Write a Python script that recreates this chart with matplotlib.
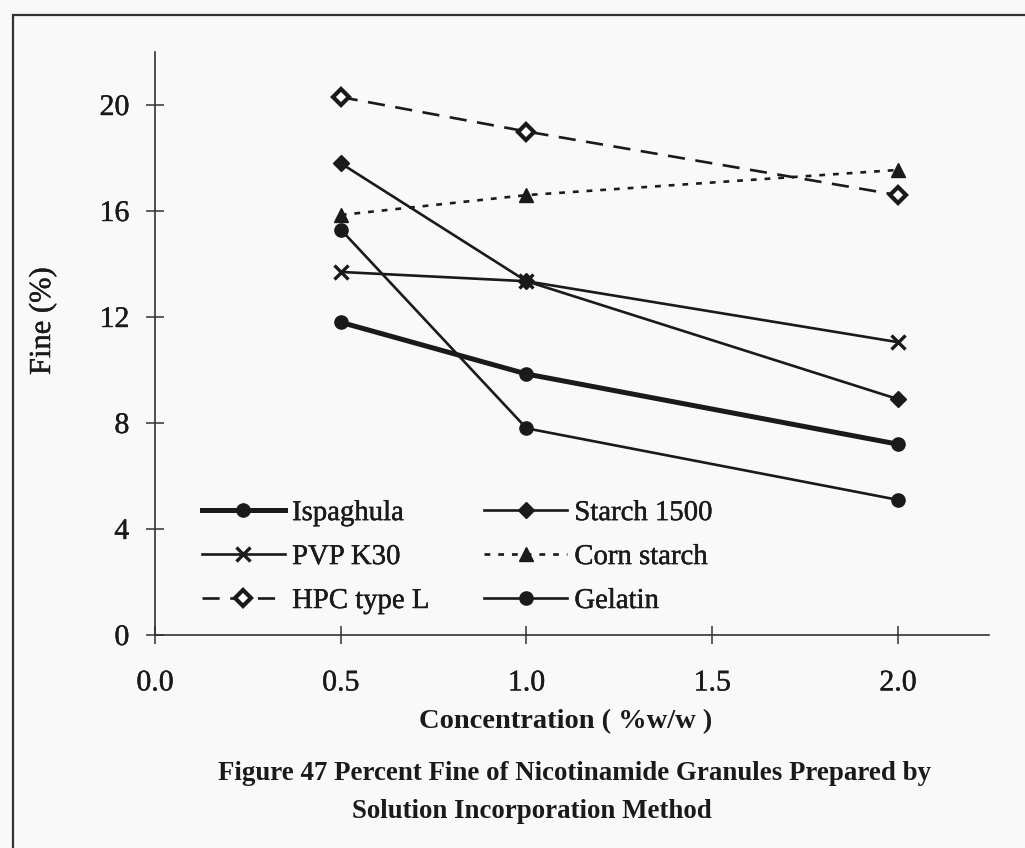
import matplotlib
matplotlib.use("Agg")
import matplotlib.pyplot as plt
import matplotlib.patheffects as pe
from matplotlib.patches import Rectangle

# Binder concentration (%w/w)
concentration = [0.5, 1.0, 2.0]

# Percent fine for each binder
ispaghula = [11.8, 9.85, 7.2]
starch_1500 = [17.8, 13.35, 8.9]
pvp_k30 = [13.7, 13.35, 11.05]
corn_starch = [15.85, 16.6, 17.55]
hpc_type_l = [20.3, 19.0, 16.6]
gelatin = [15.3, 7.8, 5.1]

x_ticks = [0.0, 0.5, 1.0, 1.5, 2.0]
y_ticks = [0, 4, 8, 12, 16, 20]

caption_1 = "Figure 47 Percent Fine of Nicotinamide Granules Prepared by"
caption_2 = "Solution Incorporation Method"

plt.rcParams["font.family"] = ["Liberation Serif", "DejaVu Serif"]
ink = "#1a1a1a"
bg = "#f9f9f9"
heavy = [pe.withStroke(linewidth=0.3, foreground=ink)]

W, H = 1025, 848
fig = plt.figure(figsize=(W / 100, H / 100), dpi=100, facecolor=bg)

# outer frame of the figure page
fig.patches.append(Rectangle((13 / W, -0.1), 1.2, 1 - 15 / H + 0.1,
                             transform=fig.transFigure, fill=False,
                             edgecolor="#333333", linewidth=1.6))

ax_l, ax_r, ax_t, ax_b = 155, 989, 52, 635
ax = fig.add_axes([ax_l / W, 1 - ax_b / H, (ax_r - ax_l) / W, (ax_b - ax_t) / H])
ax.set_facecolor(bg)

thin = 1.9
series = [
    ("Ispaghula", ispaghula, dict(color=ink, lw=3.6, ls="-", marker="o", ms=9.5, mfc=ink, mec=ink)),
    ("Starch 1500", starch_1500, dict(color=ink, lw=thin, ls="-", marker="D", ms=8, mfc=ink, mec=ink)),
    ("PVP K30", pvp_k30, dict(color=ink, lw=thin, ls="-", marker="x", ms=10, mew=2.4, mec=ink)),
    ("Corn starch", corn_starch, dict(color=ink, lw=thin, ls=(0, (2.2, 3.0)), marker="^", ms=10, mfc=ink, mec=ink)),
    ("HPC type L", hpc_type_l, dict(color=ink, lw=thin, ls=(0, (6.5, 4)), marker="D", ms=8.5, mfc="white", mec=ink, mew=3.0)),
    ("Gelatin", gelatin, dict(color=ink, lw=thin, ls="-", marker="o", ms=9.5, mfc=ink, mec=ink)),
]

handles = {}
for name, values, style in series:
    (ln,) = ax.plot(concentration, values, label=name, zorder=3, **style)
    handles[name] = ln

ax.set_xlim(0, 2.245)
ax.set_ylim(0, 22)
ax.set_xticks(x_ticks)
ax.set_xticklabels([f"{v:.1f}" for v in x_ticks])
ax.set_yticks(y_ticks)
ax.set_yticklabels([str(v) for v in y_ticks])

for side in ("top", "right"):
    ax.spines[side].set_visible(False)
for side in ("left", "bottom"):
    ax.spines[side].set_color("#333333")
    ax.spines[side].set_linewidth(1.2)

ax.tick_params(axis="both", direction="inout", length=13, width=1.1, color="#333333",
               labelsize=21.5, labelcolor=ink)
ax.tick_params(axis="x", pad=19)
ax.tick_params(axis="y", pad=12)
for lab in ax.get_xticklabels() + ax.get_yticklabels():
    lab.set_path_effects(heavy)

ax.set_xlabel("Concentration ( %w/w )", fontsize=20.5, fontweight="bold",
              color=ink, va="center")
ax.xaxis.set_label_coords((566 - ax_l) / (ax_r - ax_l), -(722 - ax_b) / (ax_b - ax_t))
ax.set_ylabel("Fine (%)", fontsize=22, color=ink, path_effects=heavy)
ax.yaxis.set_label_coords(-0.1175, 0.538)

order = ["Ispaghula", "PVP K30", "HPC type L", "Starch 1500", "Corn starch", "Gelatin"]
leg = fig.legend([handles[n] for n in order], order, ncol=2, frameon=False,
                 loc="center", bbox_to_anchor=(457 / W, 1 - 557 / H),
                 fontsize=20.7, handlelength=2.9, handletextpad=0.24,
                 columnspacing=1.9, labelspacing=0.62, borderpad=0,
                 numpoints=1, labelcolor=ink)
for t in leg.get_texts():
    t.set_path_effects(heavy)

fig.text(218 / W, 1 - 774 / H, caption_1, fontsize=19.4, fontweight="bold",
         color=ink, ha="left", va="center")
fig.text(352 / W, 1 - 811 / H, caption_2, fontsize=19.4, fontweight="bold",
         color=ink, ha="left", va="center")

fig.savefig("out.png", dpi=100, facecolor=bg)
